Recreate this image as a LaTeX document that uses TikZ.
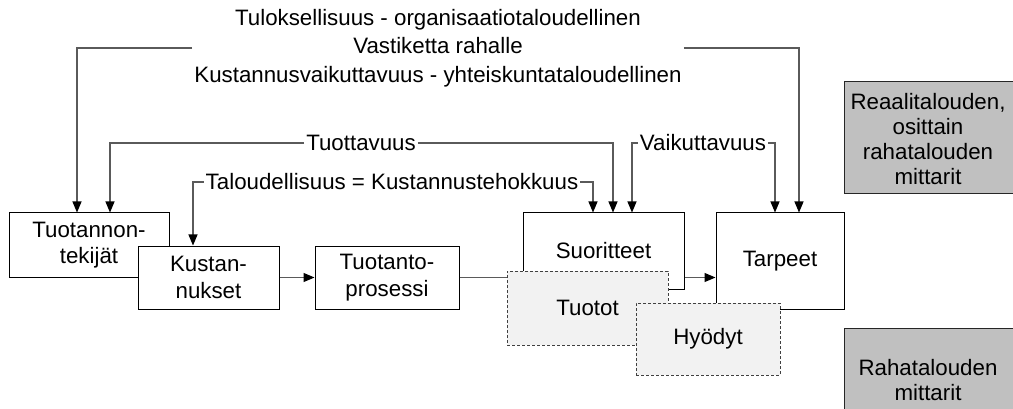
\documentclass[tikz,border=0pt]{standalone}
\usepackage{fontspec}
\setmainfont{Liberation Sans}
\usetikzlibrary{arrows.meta}
\definecolor{linegray}{HTML}{5a5a5a}
\definecolor{boxgray}{HTML}{c0c0c0}
\definecolor{palegray}{HTML}{f2f2f2}
\tikzstyle{block}=[draw, line width=1pt, fill=white, inner sep=0pt, align=center, font=\fontsize{22.3}{26.5}\selectfont]
\tikzstyle{dashblock}=[block, draw=black!75, fill=palegray, dash pattern=on 3pt off 2pt]
\tikzstyle{measure}=[inner sep=2pt, font=\fontsize{22.3}{26.5}\selectfont]
\tikzstyle{conn}=[linegray, line width=1.2pt, -{Triangle[length=11pt, width=9pt, color=black]}]

\begin{document}
\begin{tikzpicture}[x=1pt, y=-1pt]
\useasboundingbox (0,0) rectangle (1013,409);
\clip (0,0) rectangle (1013,409);

\node[block, minimum width=160pt, minimum height=64pt] (tekijat) at (89, 245) {Tuotannon-\\tekijät};
\node[block, minimum width=141pt, minimum height=63pt] (kustannukset) at (208.5, 277.5) {Kustan-\\nukset};
\node[block, minimum width=144pt, minimum height=63pt] (prosessi) at (387, 277.5) {Tuotanto-\\prosessi};
\node[block, minimum width=161pt, minimum height=76pt] (suoritteet) at (603.5, 251) {Suoritteet};

\draw[conn] (kustannukset.east) -- (prosessi.west);
\draw[conn] (prosessi.east) -- (prosessi.east -| suoritteet.west);

\node[dashblock, minimum width=161pt, minimum height=74pt] (tuotot) at (587.5, 308) {Tuotot};
\node[block, minimum width=128pt, minimum height=96pt] (tarpeet) at (780, 261) {Tarpeet};

\draw[conn] (suoritteet.east |- kustannukset.east) -- (tarpeet.west |- kustannukset.east);

\node[dashblock, minimum width=144pt, minimum height=72pt] (hyodyt) at (708, 339) {Hyödyt};

\node[measure, align=center, font=\fontsize{22.3}{28.5}\selectfont] (result) at (438, 48) {Tuloksellisuus - organisaatiotaloudellinen\\Vastiketta rahalle\\Kustannusvaikuttavuus - yhteiskuntataloudellinen};
\node[measure] (tuottavuus) at (361, 143) {Tuottavuus};
\node[measure] (taloudellisuus) at (392, 182) {Taloudellisuus = Kustannustehokkuus};
\node[measure] (vaikuttavuus) at (703, 143) {Vaikuttavuus};

\draw[conn] (result.west) -| ([xshift=-12pt]tekijat.north);
\draw[conn] (result.east) -| ([xshift=19pt]tarpeet.north);
\draw[conn] (tuottavuus.west) -| ([xshift=21pt]tekijat.north);
\draw[conn] (tuottavuus.east) -| ([xshift=9.5pt]suoritteet.north);
\draw[conn] (taloudellisuus.west) -| ([xshift=-15.5pt]kustannukset.north);
\draw[conn] (taloudellisuus.east) -| ([xshift=-10.5pt]suoritteet.north);
\draw[conn] (vaikuttavuus.west) -| ([xshift=28.5pt]suoritteet.north);
\draw[conn] (vaikuttavuus.east) -| ([xshift=-5pt]tarpeet.north);

% mittarit
\draw[fill=boxgray, draw=black!85, line width=1pt] (844, 82) rectangle (1030, 194);
\draw[fill=boxgray, draw=black!85, line width=1pt] (844, 328) rectangle (1030, 430);
\node[measure, align=center, font=\fontsize{22.3}{25}\selectfont] (reaali) at (928, 139.5) {Reaalitalouden,\\osittain\\rahatalouden\\mittarit};
\node[measure, align=center, font=\fontsize{22.3}{25}\selectfont] (raha) at (928, 380) {Rahatalouden\\mittarit};

\end{tikzpicture}
\end{document}
